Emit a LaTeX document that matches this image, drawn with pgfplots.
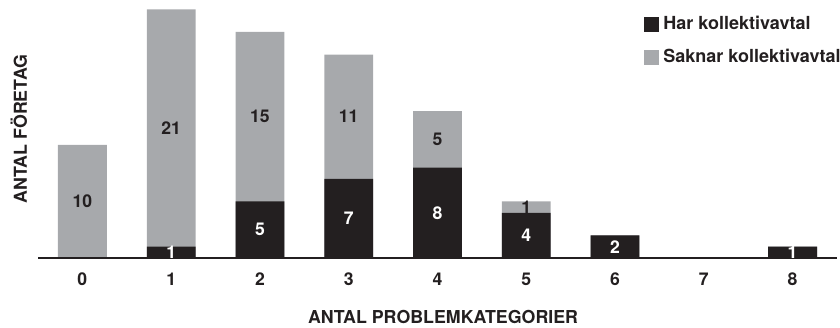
\documentclass[border=0pt]{standalone}
\usepackage{fontspec}
\setmainfont{TeX Gyre Heros}
\usepackage{pgfplots}
\pgfplotsset{compat=1.18}
\definecolor{dk}{HTML}{231F20}
\definecolor{gr}{HTML}{A7A9AC}
\begin{document}
\begin{tikzpicture}
\begin{axis}[
  scale only axis,
  width=399.5pt, height=129pt,
  xmin=-0.5, xmax=8.5, ymin=0, ymax=22.83,
  axis x line*=bottom,
  axis y line*=left,
  y axis line style={draw=none},
  ytick=\empty,
  x axis line style={-, line width=1pt, color=dk},
  xtick={0,1,2,3,4,5,6,7,8},
  major tick length=0pt,
  /pgf/number format/assume math mode=true,
  ticklabel style={font=\fontsize{8.8}{10}\selectfont\bfseries, text=dk},
  xticklabel style={yshift=-4pt},
  xlabel={ANTAL PROBLEMKATEGORIER},
  xlabel style={font=\fontsize{8.9}{10}\selectfont\bfseries, text=dk, at={(axis description cs:0.507,0)}, anchor=base, yshift=-32.5pt},
  ylabel={ANTAL FÖRETAG},
  ylabel style={font=\fontsize{8.9}{10}\selectfont\bfseries, text=dk, at={(axis description cs:-0.0238,0.5)}, anchor=center},
  axis on top,
  legend cell align=left,
  legend style={draw=none, fill=none, at={(axis description cs:0.7585,0.955)}, anchor=north west,
    font=\fontsize{9}{10}\selectfont\bfseries, text=dk, inner sep=0pt, row sep=4.5pt,
    /tikz/every even column/.append style={column sep=3pt}},
  legend image code/.code={\fill[#1] (0pt,-3.75pt) rectangle (7.5pt,3.75pt);},
]
% totals (har + saknar)
\addplot[ybar, bar width=0.55, bar shift=0pt, fill=gr, draw=none, forget plot] coordinates {(0,10) (1,22) (2,20) (3,18) (4,13) (5,5) (6,2) (7,0) (8,1)};
\addplot[ybar, bar width=0.55, bar shift=0pt, fill=dk, draw=none] coordinates {(0,0) (1,1) (2,5) (3,7) (4,8) (5,4) (6,2) (7,0) (8,1)};
\addlegendentry{Har kollektivavtal}
\addlegendimage{fill=gr, draw=none}
\addlegendentry{Saknar kollektivavtal}
% labels in black segments
\addplot[draw=none, mark=none, forget plot, nodes near coords, point meta=explicit symbolic,
  every node near coord/.style={anchor=center, text=white, font=\fontsize{8.8}{10}\selectfont\bfseries}]
  coordinates {(1,0.5)[1] (2,2.5)[5] (3,3.5)[7] (4,4)[8] (5,2)[4] (6,1)[2] (8,0.5)[1]};
% labels in grey segments
\addplot[draw=none, mark=none, forget plot, nodes near coords, point meta=explicit symbolic,
  every node near coord/.style={anchor=center, text=dk, font=\fontsize{8.8}{10}\selectfont\bfseries}]
  coordinates {(0,5)[10] (1,11.5)[21] (2,12.5)[15] (3,12.5)[11] (4,10.5)[5] (5,4.5)[1]};
\end{axis}
\pgfresetboundingbox
\useasboundingbox (-19pt,-34.5pt) rectangle (401pt,129pt);
\end{tikzpicture}
\end{document}
